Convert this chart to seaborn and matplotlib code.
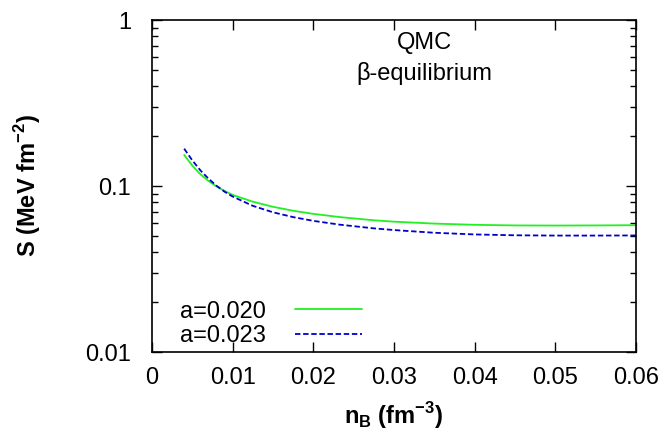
import matplotlib
matplotlib.use("Agg")
import matplotlib.pyplot as plt
import seaborn as sns
import pandas as pd
from matplotlib.ticker import FixedLocator, LogLocator, NullFormatter

sns.set_style("ticks")
plt.rcParams['font.family'] = ['Liberation Sans', 'DejaVu Sans']
plt.rcParams['mathtext.fontset'] = 'custom'
plt.rcParams['mathtext.rm'] = 'Liberation Sans'
plt.rcParams['mathtext.bf'] = 'Liberation Sans:bold'
plt.rcParams['text.color'] = 'black'
plt.rcParams['axes.labelcolor'] = 'black'
plt.rcParams['xtick.color'] = 'black'
plt.rcParams['ytick.color'] = 'black'
plt.rcParams['axes.edgecolor'] = 'black'

nB = [0.004, 0.005, 0.006, 0.007, 0.008, 0.009, 0.010, 0.0125, 0.015, 0.0175,
      0.020, 0.0233, 0.0275, 0.030, 0.035, 0.040, 0.045, 0.050, 0.055, 0.060]
S_a020 = [0.154, 0.133, 0.118, 0.1075, 0.0995, 0.0935, 0.0885, 0.0805, 0.0750, 0.0710,
          0.0680, 0.0650, 0.0622, 0.0610, 0.0594, 0.0584, 0.0579, 0.0578, 0.0579, 0.0581]
S_a023 = [0.168, 0.143, 0.1245, 0.111, 0.1005, 0.0925, 0.0865, 0.0760, 0.0695, 0.0650,
          0.0617, 0.0585, 0.0556, 0.0543, 0.0523, 0.0511, 0.0505, 0.0503, 0.0503, 0.0504]
labels = ["a=0.020", "a=0.023"]

df = pd.concat([
    pd.DataFrame({"nB": nB, "S": S_a020, "series": labels[0]}),
    pd.DataFrame({"nB": nB, "S": S_a023, "series": labels[1]}),
])

fig = plt.figure(figsize=(6.69, 4.37), dpi=100)
ax = fig.add_axes([0.227, 0.1945, 0.724, 0.7595])
sns.lineplot(data=df, x="nB", y="S", hue="series", style="series",
             palette={labels[0]: "#22f022", labels[1]: "#0000cc"},
             dashes={labels[0]: "", labels[1]: (3, 1.5)},
             linewidth=1.3, ax=ax)
ax.set_yscale("log")
ax.set_xlim(0, 0.06)
ax.set_ylim(0.01, 1)
ax.set_xticks([0, 0.01, 0.02, 0.03, 0.04, 0.05, 0.06])
ax.set_xticklabels(["0", "0.01", "0.02", "0.03", "0.04", "0.05", "0.06"])
ax.yaxis.set_major_locator(FixedLocator([0.01, 0.1, 1]))
ax.set_yticklabels(["0.01", "0.1", "1"])
ax.yaxis.set_minor_locator(LogLocator(base=10, subs=range(2, 10)))
ax.yaxis.set_minor_formatter(NullFormatter())
ax.tick_params(which="both", direction="in", top=True, right=True, labelsize=17)
ax.tick_params(axis="x", pad=11)
ax.tick_params(axis="y", pad=15)
ax.tick_params(which="major", length=7, width=1)
ax.tick_params(which="minor", length=4, width=1)
for sp in ax.spines.values():
    sp.set_linewidth(1.2)
ax.set_xlabel(r"$\mathbf{n_B}$ (fm$^{\mathbf{-3}}$)", fontsize=17, fontweight="bold", labelpad=8)
ax.set_ylabel(r"S (MeV fm$^{\mathbf{-2}}$)", fontsize=17, fontweight="bold", labelpad=30)
ax.text(0.563, 0.93, "QMC", transform=ax.transAxes, ha="center", va="center", fontsize=17)
ax.text(0.563, 0.84, "β-equilibrium", transform=ax.transAxes, ha="center", va="center", fontsize=17)
leg = ax.legend(loc="lower left", bbox_to_anchor=(0.015, -0.05), frameon=False,
                markerfirst=False, fontsize=17, handlelength=2.85, title=None,
                labelspacing=0.12, handletextpad=1.2)
fig.savefig("out.png", dpi=100)
